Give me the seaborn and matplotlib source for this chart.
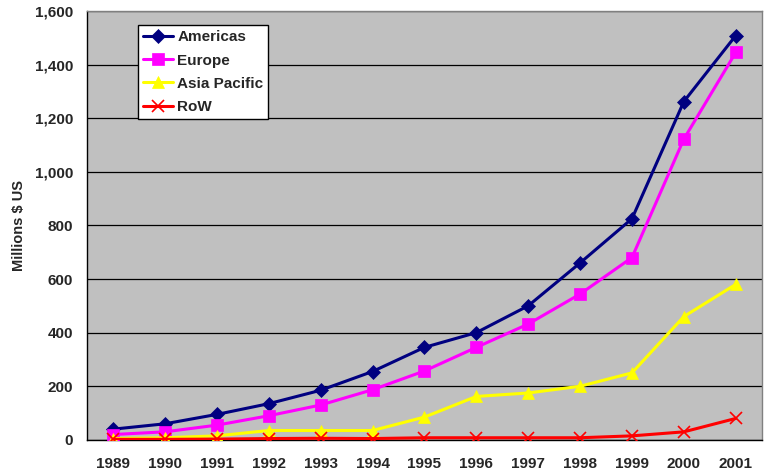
import matplotlib
matplotlib.use("Agg")
import matplotlib.pyplot as plt
import seaborn as sns
import pandas as pd
import numpy as np
from matplotlib.ticker import FuncFormatter, FixedLocator, NullFormatter

years = [1989, 1990, 1991, 1992, 1993, 1994, 1995, 1996, 1997, 1998, 1999, 2000, 2001]
americas = [40, 60, 95, 135, 185, 255, 345, 400, 500, 660, 825, 1262, 1508]
europe = [20, 30, 55, 90, 130, 187, 257, 345, 432, 544, 680, 1122, 1445]
asia_pacific = [5, 8, 15, 35, 35, 35, 85, 162, 175, 200, 250, 460, 580]
row = [2, 2, 3, 5, 6, 5, 8, 8, 8, 8, 15, 30, 80]

series_names = ["Americas", "Europe", "Asia Pacific", "RoW"]
series_vals = [americas, europe, asia_pacific, row]
colors = ["#000080", "#FF00FF", "#FFFF00", "#FF0000"]
markers = ["D", "s", "^", "x"]
msizes = [7, 8, 9, 9]

sns.set_theme(style="white")
plt.rcParams['font.family'] = ['Liberation Sans', 'DejaVu Sans']
plt.rcParams['font.weight'] = 'bold'

fig = plt.figure(figsize=(7.64, 4.73), dpi=100)
ax = fig.add_axes([0.114, 0.070, 0.883, 0.907])
ax.set_facecolor("#C0C0C0")

rows = []
for name, vals in zip(series_names, series_vals):
    for y, v in zip(years, vals):
        rows.append({"Year": y, "Value": v, "Region": name})
df = pd.DataFrame(rows)

for name, c, m, ms in zip(series_names, colors, markers, msizes):
    sub = df[df["Region"] == name]
    sns.lineplot(data=sub, x="Year", y="Value", ax=ax, color=c, marker=m,
                 markersize=ms, linewidth=2.2, markeredgecolor=c,
                 markeredgewidth=1.2 if m == "x" else 0.5, label=name,
                 zorder=3)

ax.set_xlim(years[0] - 0.5, years[-1] + 0.5)
ax.set_ylim(0, 1600)
ax.set_yticks(np.arange(0, 1601, 200))
ax.yaxis.set_major_formatter(FuncFormatter(lambda v, p: f"{int(v):,}"))
ax.set_xticks(years)
ax.set_xticklabels([str(y) for y in years])
ax.xaxis.set_minor_locator(FixedLocator(np.arange(years[0] - 0.5, years[-1] + 1, 1)))
ax.xaxis.set_minor_formatter(NullFormatter())
ax.tick_params(axis="x", which="major", length=0, pad=12, labelsize=11)
ax.tick_params(axis="x", which="minor", length=3.6, width=1, color="black", direction="out")
ax.tick_params(axis="y", which="major", length=3.6, width=1, color="black", direction="out", labelsize=11, pad=6.5)
for lab in ax.get_xticklabels() + ax.get_yticklabels():
    lab.set_fontweight("bold")

ax.grid(axis="y", color="black", linewidth=0.9, zorder=0)
ax.set_axisbelow(True)
ax.set_xlabel("")
ax.set_ylabel("Millions $ US", fontsize=10.5, fontweight="bold", labelpad=6)

for s in ["top", "right"]:
    ax.spines[s].set_color("#808080")
    ax.spines[s].set_linewidth(1)
for s in ["left", "bottom"]:
    ax.spines[s].set_color("black")
    ax.spines[s].set_linewidth(1)

leg = ax.legend(loc="upper left", bbox_to_anchor=(0.0756, 0.966), frameon=True,
                fancybox=False, edgecolor="black", facecolor="white", framealpha=1,
                prop={"weight": "bold", "size": 11}, handlelength=1.96,
                borderpad=0.32, labelspacing=0.6, handletextpad=0.28,
                borderaxespad=0)
leg.get_frame().set_linewidth(1)

fig.savefig("out.png", dpi=100)
